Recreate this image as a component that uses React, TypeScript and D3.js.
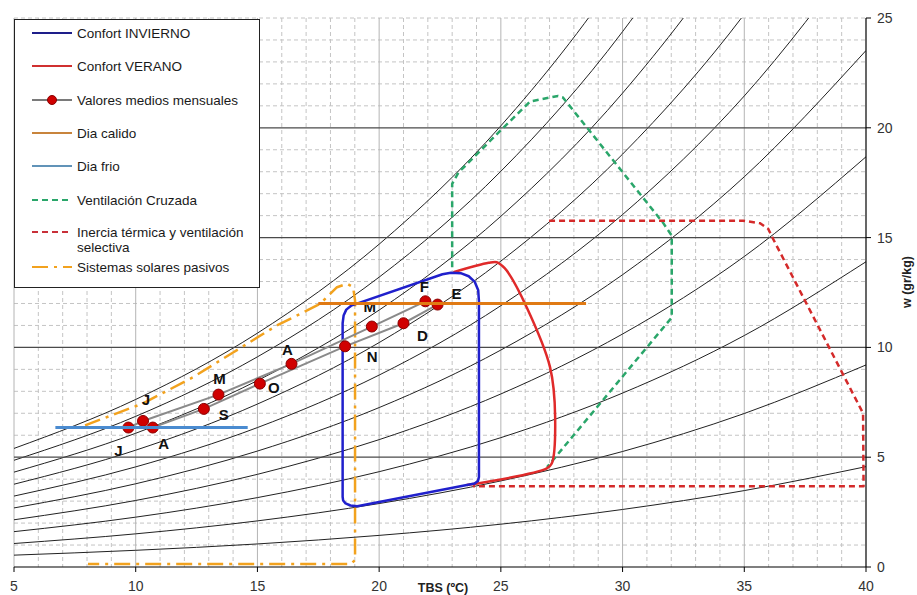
import * as d3 from 'd3';

const W = 917;
const H = 595;
const M = { left: 14, right: 866, top: 18, bottom: 567 };

// ejes
const ticksTBS = [5, 10, 15, 20, 25, 30, 35, 40];
const ticksW = [0, 5, 10, 15, 20, 25];

// curvas de humedad relativa (10% ... 100%), w en gr/kg leido cada 5 ºC
const tbsCurvas = [5, 10, 15, 20, 25, 30, 35, 40];
const hr10 = [0.54, 0.76, 1.05, 1.44, 1.95, 2.62, 3.48, 4.57];
const hr20 = [1.07, 1.51, 2.1, 2.89, 3.92, 5.26, 6.99, 9.2];
const hr30 = [1.61, 2.27, 3.16, 4.34, 5.89, 7.92, 10.54, 13.9];
const hr40 = [2.15, 3.03, 4.22, 5.8, 7.88, 10.61, 14.14, 18.68];
const hr50 = [2.69, 3.79, 5.28, 7.26, 9.88, 13.31, 17.77, 23.52];
const hr60 = [3.23, 4.56, 6.35, 8.74, 11.9, 16.05, 21.45, 28.44];
const hr70 = [3.77, 5.32, 7.42, 10.22, 13.93, 18.8, 25.17, 33.44];
const hr80 = [4.32, 6.09, 8.49, 11.7, 15.97, 21.58, 28.93, 38.51];
const hr90 = [4.86, 6.86, 9.57, 13.2, 18.02, 24.38, 32.73, 43.66];
const hr100 = [5.4, 7.63, 10.65, 14.7, 20.09, 27.21, 36.58, 48.89];
const curvasHR = [hr10, hr20, hr30, hr40, hr50, hr60, hr70, hr80, hr90, hr100];

// zonas [TBS, w]
const confortInvierno = [
  [18.5, 3.2], [18.5, 11.1], [18.54, 11.45], [18.65, 11.72], [18.85, 11.9], [22.6, 13.33],
  [22.95, 13.4], [23.35, 13.38], [23.68, 13.24], [23.93, 12.98], [24.07, 12.6], [24.1, 12.1],
  [24.1, 4.1], [24.06, 3.92], [23.92, 3.8], [19.1, 2.77], [18.82, 2.8], [18.62, 2.9], [18.52, 3.03],
];
const confortVerano = [
  [23.05, 13.42], [24.5, 13.85], [24.83, 13.88], [25.05, 13.72], [25.24, 13.5], [26.06, 11.83],
  [27.02, 9.1], [27.23, 6.83], [27.09, 4.71], [26.89, 4.49], [23.6, 3.73],
];
const ventilacionCruzada = [
  [23.0, 13.65], [23.0, 17.45], [23.25, 17.95], [24.97, 19.86], [26.2, 21.2], [27.35, 21.45],
  [27.55, 21.38], [31.66, 15.68], [32.02, 15.09], [32.02, 11.36], [26.9, 4.55],
];
const inerciaTermica = [
  [26.98, 15.77], [34.95, 15.77], [35.65, 15.65], [35.98, 15.4], [36.18, 14.95], [39.88, 7.0],
  [39.9, 3.68], [23.86, 3.68],
];
const solaresPasivos = [
  [7.92, 6.45], [10.3, 7.45], [12.35, 8.64], [14.0, 9.77], [15.8, 11.0], [17.57, 11.98],
  [18.27, 12.74], [18.68, 12.9], [18.93, 12.74], [19.01, 12.14], [19.01, 0.32], [18.85, 0.14],
  [8.04, 0.14],
];

// dias tipo
const diaCalidoTBS = [17.5, 28.5];
const diaCalidoW = 12;
const diaFrioTBS = [6.7, 14.6];
const diaFrioW = 6.35;

// valores medios mensuales
const meses = ['E', 'F', 'M', 'A', 'M', 'J', 'J', 'A', 'S', 'O', 'N', 'D'];
const tbsMes = [22.4, 21.9, 19.7, 16.4, 13.4, 10.3, 9.7, 10.7, 12.8, 15.1, 18.6, 21.0];
const wMes = [11.95, 12.1, 10.95, 9.25, 7.85, 6.65, 6.35, 6.35, 7.2, 8.35, 10.05, 11.1];
// desplazamiento de cada etiqueta (px)
const offMes = [
  [19, -11], [-1, -15], [-2, -20], [-4, -14], [1, -16], [3, -21],
  [-10, 23], [11, 16], [20, 6], [14, 4], [27, 10], [19, 12],
];

const leyenda = [
  'Confort INVIERNO',
  'Confort VERANO',
  'Valores medios mensuales',
  'Dia calido',
  'Dia frio',
  'Ventilación Cruzada',
  'Inercia térmica y ventilación',
  'Sistemas solares pasivos',
];

const FONT = '"Liberation Sans", Arial, sans-serif';
const C = {
  azul: '#2020cc',
  rojo: '#e02a2a',
  gris: '#8a8a8a',
  punto: '#d00000',
  calido: '#e07a14',
  frio: '#4a8bd0',
  verde: '#2aa66a',
  rojoDash: '#d42a2a',
  solar: '#f2a21e',
};

export default function App() {
  const x = d3.scaleLinear().domain([5, 40]).range([M.left, M.right]);
  const y = d3.scaleLinear().domain([0, 25]).range([M.bottom, M.top]);

  const linea = d3
    .line<number[]>()
    .x((d) => x(d[0]))
    .y((d) => y(d[1]));
  const suave = d3
    .line<number[]>()
    .x((d) => x(d[0]))
    .y((d) => y(d[1]))
    .curve(d3.curveCatmullRom.alpha(0.5));
  const cerrada = d3
    .line<number[]>()
    .x((d) => x(d[0]))
    .y((d) => y(d[1]))
    .curve(d3.curveLinearClosed);
  const curvaHR = d3
    .line<number>()
    .x((_, i) => x(tbsCurvas[i]))
    .y((d) => y(d))
    .curve(d3.curveMonotoneX);

  const minorT = d3.range(6, 40).filter((t) => t % 5 !== 0);
  const minorW = d3.range(1, 26).filter((w) => w % 5 !== 0 || w === 25);
  const majorT = [5, 10, 15, 20, 25, 30, 35];
  const majorW = [5, 10, 15, 20];

  const mensual = meses.map((m, i) => [tbsMes[i], wMes[i]]);

  const leyY = [33, 66, 100, 133, 166, 200, 232, 267];

  return (
    <div style={{ position: 'absolute', left: 0, top: 0 }}>
      <svg width={W} height={H} style={{ display: 'block', background: '#fff' }} fontFamily={FONT}>
        <defs>
          <clipPath id="area">
            <rect x={M.left} y={M.top} width={M.right - M.left} height={M.bottom - M.top} />
          </clipPath>
        </defs>

        {/* rejilla */}
        <g stroke="#c4c4c4" strokeWidth={1} strokeDasharray="4,3" fill="none">
          {minorT.map((t) => (
            <line key={'t' + t} x1={x(t)} x2={x(t)} y1={M.top} y2={M.bottom} />
          ))}
          {minorW.map((w) => (
            <line key={'w' + w} x1={M.left} x2={M.right} y1={y(w)} y2={y(w)} />
          ))}
        </g>
        <g stroke="#b4b4b4" strokeWidth={1}>
          {majorT.map((t) => (
            <line key={t} x1={x(t)} x2={x(t)} y1={M.top} y2={M.bottom} />
          ))}
        </g>

        {/* curvas de humedad relativa */}
        <g clipPath="url(#area)" fill="none" stroke="#222" strokeWidth={1}>
          {curvasHR.map((c, i) => (
            <path key={i} d={curvaHR(c) || ''} />
          ))}
        </g>

        <g stroke="#4a4a4a" strokeWidth={1.3}>
          {majorW.map((w) => (
            <line key={w} x1={M.left} x2={M.right} y1={y(w)} y2={y(w)} />
          ))}
        </g>

        {/* zonas */}
        <g fill="none" strokeLinejoin="round" clipPath="url(#area)">
          <path d={linea(solaresPasivos) || ''} stroke={C.solar} strokeWidth={2.5} strokeDasharray="16,6,3,6" />
          <path d={linea(ventilacionCruzada) || ''} stroke={C.verde} strokeWidth={2.5} strokeDasharray="6,4" />
          <path d={linea(inerciaTermica) || ''} stroke={C.rojoDash} strokeWidth={2.5} strokeDasharray="6,4" />
          <path d={suave(confortVerano) || ''} stroke={C.rojo} strokeWidth={2.5} />
          <path d={cerrada(confortInvierno) || ''} stroke={C.azul} strokeWidth={2.5} />
        </g>

        {/* valores medios mensuales */}
        <path d={(linea(mensual) || '') + 'Z'} fill="none" stroke={C.gris} strokeWidth={2} />
        {mensual.map((d, i) => (
          <circle key={i} cx={x(d[0])} cy={y(d[1])} r={5.5} fill={C.punto} stroke="#8a0000" strokeWidth={1} />
        ))}
        {mensual.map((d, i) => (
          <text
            key={'l' + i}
            x={x(d[0]) + offMes[i][0]}
            y={y(d[1]) + offMes[i][1]}
            textAnchor="middle"
            dominantBaseline="central"
            fontSize={15}
            fontWeight="bold"
            fill="#111"
          >
            {meses[i]}
          </text>
        ))}

        {/* dias tipo */}
        <line x1={x(diaCalidoTBS[0])} x2={x(diaCalidoTBS[1])} y1={y(diaCalidoW)} y2={y(diaCalidoW)} stroke={C.calido} strokeWidth={3} />
        <line x1={x(diaFrioTBS[0])} x2={x(diaFrioTBS[1])} y1={y(diaFrioW)} y2={y(diaFrioW)} stroke={C.frio} strokeWidth={3} />

        {/* ejes */}
        <line x1={M.left} x2={M.right} y1={M.bottom} y2={M.bottom} stroke="#000" strokeWidth={1.2} />
        <line x1={M.right} x2={M.right} y1={M.top} y2={M.bottom} stroke="#000" strokeWidth={1.2} />
        {ticksTBS.map((t) => (
          <g key={t}>
            <line x1={x(t)} x2={x(t)} y1={M.bottom} y2={M.bottom + 5} stroke="#000" />
            <text x={x(t)} y={591} textAnchor="middle" fontSize={14} fill="#333">
              {t}
            </text>
          </g>
        ))}
        {ticksW.map((w) => (
          <g key={w}>
            <line x1={M.right} x2={M.right + 5} y1={y(w)} y2={y(w)} stroke="#000" />
            <text x={M.right + 11} y={y(w)} dominantBaseline="central" fontSize={14} fill="#333">
              {w}
            </text>
          </g>
        ))}
        <text x={443} y={592} textAnchor="middle" fontSize={12.5} fontWeight="bold" fill="#222">
          TBS (ºC)
        </text>
        <text transform={`translate(907,${282}) rotate(-90)`} textAnchor="middle" dominantBaseline="central" fontSize={12.5} fontWeight="bold" fill="#222">
          w (gr/kg)
        </text>

        {/* leyenda */}
        <g>
          <rect x={14.5} y={19.5} width={245} height={268} fill="#fff" stroke="#222" strokeWidth={1} />
          {leyenda.map((l, i) => {
            const yy = leyY[i];
            const sample =
              i === 0 ? <line x1={32} x2={72} y1={yy} y2={yy} stroke="#1e1e8a" strokeWidth={2} />
              : i === 1 ? <line x1={32} x2={72} y1={yy} y2={yy} stroke="#d03030" strokeWidth={2} />
              : i === 2 ? (
                <g>
                  <line x1={32} x2={72} y1={yy} y2={yy} stroke="#7a7a7a" strokeWidth={2} />
                  <circle cx={52} cy={yy} r={4.5} fill={C.punto} stroke="#8a0000" />
                </g>
              )
              : i === 3 ? <line x1={32} x2={72} y1={yy} y2={yy} stroke="#c8843c" strokeWidth={2} />
              : i === 4 ? <line x1={32} x2={72} y1={yy} y2={yy} stroke="#6193b8" strokeWidth={2} />
              : i === 5 ? <line x1={32} x2={72} y1={yy} y2={yy} stroke={C.verde} strokeWidth={2} strokeDasharray="6,4" />
              : i === 6 ? <line x1={32} x2={72} y1={yy} y2={yy} stroke="#c83038" strokeWidth={2} strokeDasharray="6,4" />
              : <line x1={32} x2={72} y1={yy} y2={yy} stroke={C.solar} strokeWidth={2} strokeDasharray="16,6,3,6" />;
            return (
              <g key={i}>
                {sample}
                <text x={77} y={yy} dominantBaseline="central" fontSize={13.5} fill="#1a1a1a">
                  {l}
                </text>
                {i === 6 && (
                  <text x={77} y={yy + 15} dominantBaseline="central" fontSize={13.5} fill="#1a1a1a">
                    selectiva
                  </text>
                )}
              </g>
            );
          })}
        </g>
      </svg>
    </div>
  );
}
